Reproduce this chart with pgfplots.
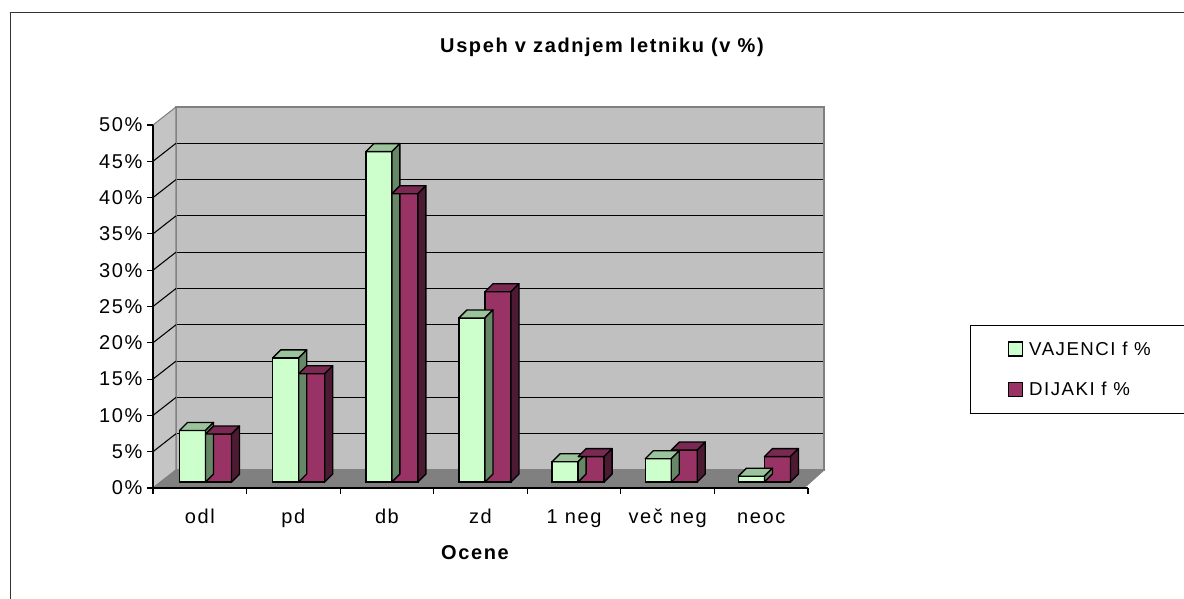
\documentclass[border=0pt]{standalone}
\usepackage{pgfplots}
\pgfplotsset{compat=1.18}
\usepackage{pgfplotstable}
\usepackage{fontspec}
\setmainfont{Liberation Sans}[LetterSpace=8]

\definecolor{frontV}{HTML}{CCFFCC}
\definecolor{topV}{HTML}{9CC49C}
\definecolor{sideV}{HTML}{668866}
\definecolor{frontD}{HTML}{993366}
\definecolor{topD}{HTML}{7A2952}
\definecolor{sideD}{HTML}{4D1A33}
\definecolor{wallgray}{HTML}{C0C0C0}
\definecolor{leftgray}{HTML}{C4C4C4}
\definecolor{floorgray}{HTML}{808080}
\definecolor{edgegray}{HTML}{808080}

\newcommand{\fs}{\fontsize{15}{18}\selectfont}
\newcommand{\fl}{\fontsize{14}{17}\selectfont}

\pgfplotsset{
  sqlegend/.style={legend image code/.code={\draw[##1] (0pt,-5pt) rectangle (10.5pt,5.5pt); \path (13pt,0pt);}},
}

\pgfplotstableread{
x V D
0 7.1 6.6
1 17.1 14.9
2 45.5 39.7
3 22.6 26.2
4 2.8 3.5
5 3.2 4.4
6 0.8 3.5
}\data

\pgfdeclareplotmark{cubeV}{%
  \pgfmathsetmacro{\hb}{-\hval*5.445}%
  \pgfmathsetmacro{\hc}{6-\hval*5.445}%
  \pgfsetlinewidth{1pt}\pgfsetstrokecolor{black}\pgfsetroundjoin
  \pgfpathmoveto{\pgfqpoint{-19.5pt}{0pt}}%
  \pgfpathlineto{\pgfqpoint{0pt}{0pt}}%
  \pgfpathlineto{\pgfqpoint{6pt}{6pt}}%
  \pgfpathlineto{\pgfqpoint{-13.5pt}{6pt}}%
  \pgfpathclose
  \pgfsetfillcolor{topV}\pgfusepath{fill,stroke}%
  \pgfpathmoveto{\pgfqpoint{0pt}{0pt}}%
  \pgfpathlineto{\pgfqpoint{6pt}{6pt}}%
  \pgfpathlineto{\pgfpoint{6pt}{\hc pt}}%
  \pgfpathlineto{\pgfpoint{0pt}{\hb pt}}%
  \pgfpathclose
  \pgfsetfillcolor{sideV}\pgfusepath{fill,stroke}%
}
\pgfdeclareplotmark{cubeD}{%
  \pgfmathsetmacro{\hb}{-\hval*5.445}%
  \pgfmathsetmacro{\hc}{6-\hval*5.445}%
  \pgfsetlinewidth{1pt}\pgfsetstrokecolor{black}\pgfsetroundjoin
  \pgfpathmoveto{\pgfqpoint{0pt}{0pt}}%
  \pgfpathlineto{\pgfqpoint{19.5pt}{0pt}}%
  \pgfpathlineto{\pgfqpoint{25.5pt}{6pt}}%
  \pgfpathlineto{\pgfqpoint{6pt}{6pt}}%
  \pgfpathclose
  \pgfsetfillcolor{topD}\pgfusepath{fill,stroke}%
  \pgfpathmoveto{\pgfqpoint{19.5pt}{0pt}}%
  \pgfpathlineto{\pgfqpoint{25.5pt}{6pt}}%
  \pgfpathlineto{\pgfpoint{25.5pt}{\hc pt}}%
  \pgfpathlineto{\pgfpoint{19.5pt}{\hb pt}}%
  \pgfpathclose
  \pgfsetfillcolor{sideD}\pgfusepath{fill,stroke}%
}

\begin{document}
\begin{tikzpicture}
\path[use as bounding box] (0,0) rectangle (888pt,449.25pt);
\draw[line width=1.2pt, black!80] (7.875pt,-5pt) -- (7.875pt,439.875pt) -- (900pt,439.875pt);

% back wall, left wall, floor
\begin{axis}[
  at={(132pt,96.75pt)}, anchor=south west,
  width=486pt, height=272.25pt, scale only axis,
  xmin=-0.5, xmax=6.5, ymin=0, ymax=50,
  xtick=\empty, ytick={5,10,...,45}, yticklabels={},
  major tick length=0pt,
  ymajorgrids, grid style={black, line width=0.8pt},
  axis line style={edgegray, line width=0.8pt},
  axis background/.style={fill=wallgray},
  clip=false,
]
\addplot[draw=none, forget plot] coordinates {(0,0)};
\fill[leftgray, draw=edgegray, line width=0.8pt] (axis cs:-0.5,0) -- (axis cs:-0.5,50) -- ++(-17.25pt,-13.5pt) -- ++(0pt,-272.25pt) -- cycle;
\fill[floorgray, draw=edgegray, line width=0.8pt] (axis cs:-0.5,0) -- (axis cs:6.5,0) -- ++(-15pt,-13.5pt) -- ++(-488.25pt,0pt) -- cycle;
\pgfplotsinvokeforeach{5,10,...,45}{\draw[black, line width=0.8pt] (axis cs:-0.5,#1) -- ++(-17.25pt,-13.5pt);}
\end{axis}

% bars
\begin{axis}[
  at={(119.25pt,87.75pt)}, anchor=south west,
  width=489pt, height=272.25pt, scale only axis,
  xmin=-0.5, xmax=6.5, ymin=0, ymax=50,
  hide axis, clip=false,
  legend style={at={(1.2439,0.4325)}, anchor=north west, draw=black, line width=0.8pt,
    font=\fl, inner xsep=28pt, inner ysep=10pt, row sep=15pt, cells={anchor=west}},
]
\addplot[scatter, only marks, forget plot, mark=cubeV,
  visualization depends on={rawy \as \hval},
  scatter/use mapped color={draw=black}] table[x=x,y=V]{\data};
\addplot[ybar, bar width=19.5pt, bar shift=-9.75pt, fill=frontV, draw=black, line width=1pt,
  sqlegend] table[x=x,y=V]{\data};
\addplot[scatter, only marks, forget plot, mark=cubeD,
  visualization depends on={rawy \as \hval},
  scatter/use mapped color={draw=black}] table[x=x,y=D]{\data};
\addplot[ybar, bar width=19.5pt, bar shift=9.75pt, fill=frontD, draw=black, line width=1pt,
  sqlegend] table[x=x,y=D]{\data};
\legend{VAJENCI f \%\hspace{10pt}, DIJAKI f \%\hspace{10pt}}
\end{axis}

% front axis with ticks and labels
\begin{axis}[
  at={(114.75pt,83.25pt)}, anchor=south west,
  width=491.25pt, height=272.25pt, scale only axis,
  xmin=-0.5, xmax=6.5, ymin=0, ymax=50,
  axis x line*=bottom, axis y line*=left,
  x axis line style={-}, y axis line style={-},
  axis line style={black, line width=0.9pt},
  ytick={0,5,...,50}, yticklabel={\pgfmathprintnumber{\tick}\%},
  xtick={-0.5,0.5,...,6.5}, xticklabels={},
  extra x ticks={0,1,2,3,4,5,6},
  extra x tick labels={odl,pd,db,zd,1 neg,več neg,neoc},
  extra x tick style={major tick length=0pt,
    xticklabel style={yshift=-12pt, text height=11pt, text depth=3pt}},
  tick align=outside, major tick length=4.5pt,
  tick style={black, line width=0.8pt},
  ticklabel style={font=\fs},
  /pgf/number format/assume math mode=true,
]
\addplot[draw=none, forget plot] coordinates {(0,0)};
\end{axis}

\node[font=\bfseries\fs] at (451.5pt,414pt) {Uspeh v zadnjem letniku (v \%)};
\node[font=\bfseries\fs] at (356.25pt,34.5pt) {Ocene};
\end{tikzpicture}
\end{document}
